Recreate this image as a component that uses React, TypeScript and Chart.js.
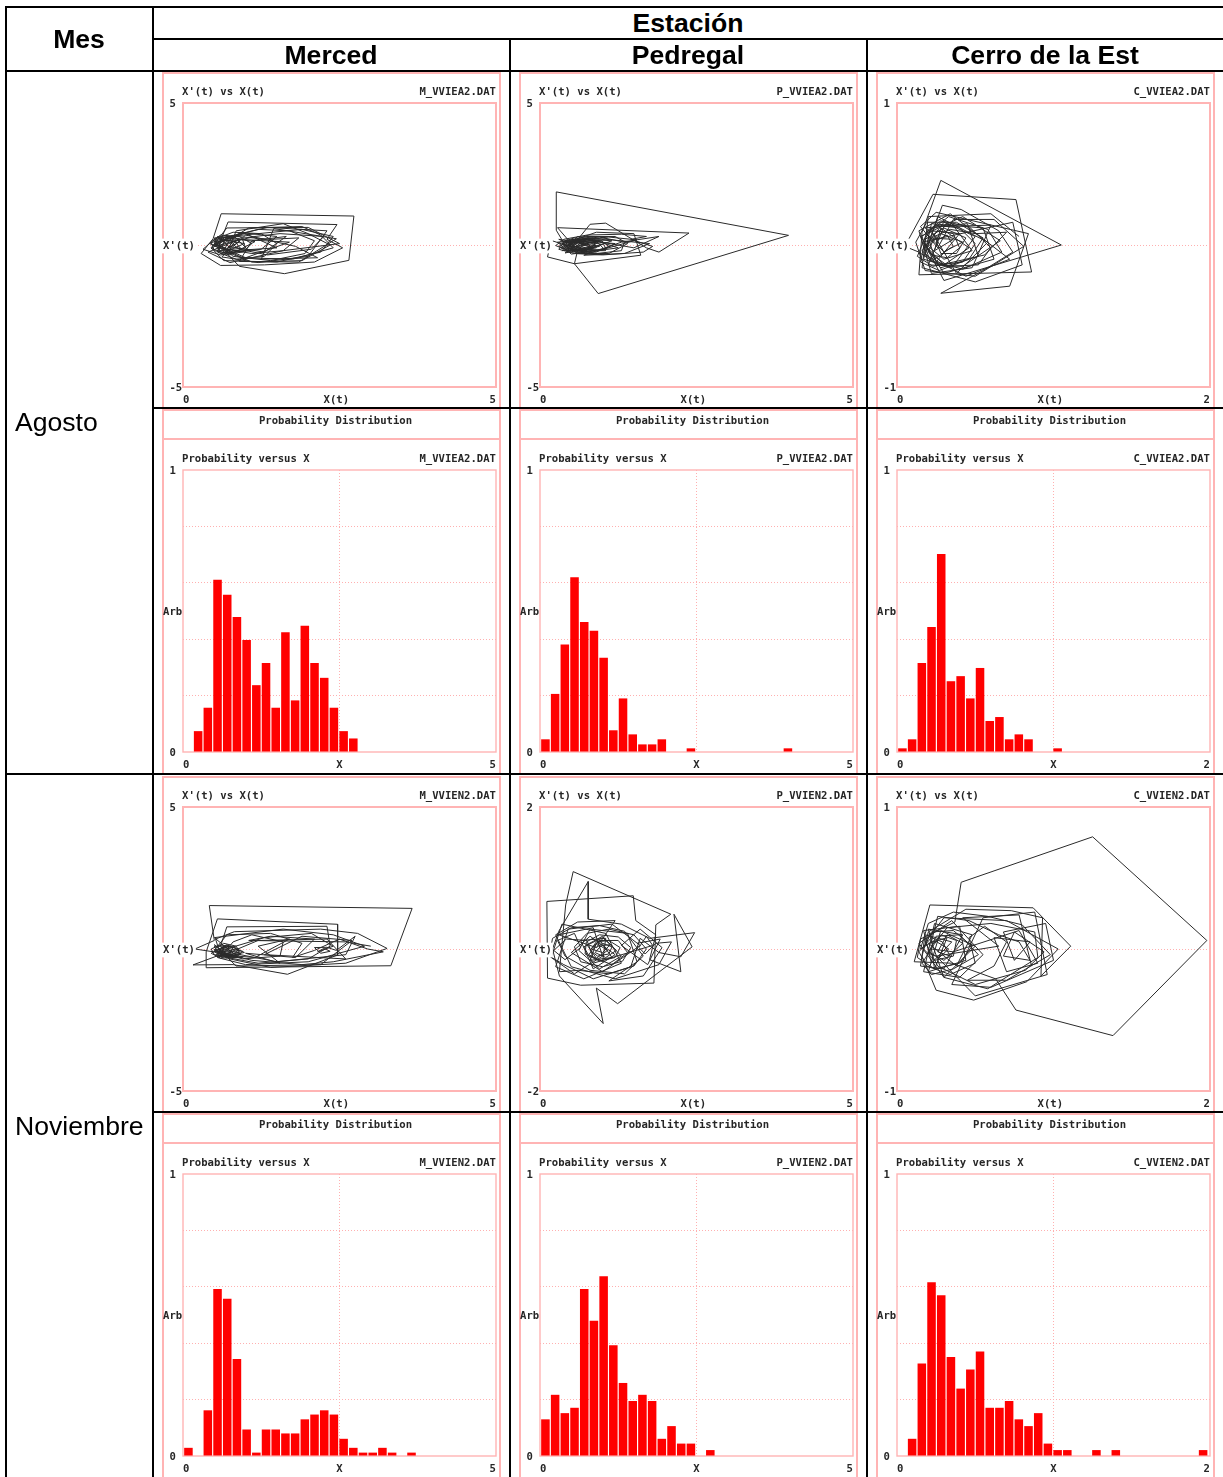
import React, { useEffect, useRef } from "react";
import { Chart, registerables } from "chart.js";

Chart.register(...registerables);

type Pair = [number, number];

const topHeaders = ["Merced", "Pedregal", "Cerro de la Est"];
const rowHeaders = ["Agosto", "Noviembre"];

const binIndex = [0, 1, 2, 3, 4, 5, 6, 7, 8, 9, 10, 11, 12, 13, 14, 15, 16, 17, 18, 19, 20, 21, 22, 23, 24, 25, 26, 27, 28, 29, 30, 31];

const histMercedAgo = [0, 0.074, 0.157, 0.611, 0.558, 0.479, 0.397, 0.237, 0.316, 0.157, 0.425, 0.183, 0.448, 0.316, 0.263, 0.157, 0.074, 0.048];
const histPedregalAgo = [0.045, 0.206, 0.381, 0.62, 0.461, 0.43, 0.334, 0.077, 0.19, 0.0625, 0.027, 0.027, 0.045, 0, 0, 0.013, 0, 0, 0, 0, 0, 0, 0, 0, 0, 0.013];
const histCerroAgo = [0.013, 0.045, 0.316, 0.443, 0.702, 0.251, 0.269, 0.19, 0.298, 0.11, 0.124, 0.045, 0.0625, 0.045, 0, 0, 0.013];
const histMercedNov = [0.029, 0, 0.162, 0.592, 0.558, 0.344, 0.094, 0.012, 0.094, 0.094, 0.08, 0.08, 0.13, 0.147, 0.162, 0.147, 0.061, 0.029, 0.012, 0.012, 0.029, 0.012, 0, 0.012];
const histPedregalNov = [0.13, 0.217, 0.152, 0.171, 0.592, 0.48, 0.637, 0.393, 0.259, 0.195, 0.217, 0.195, 0.061, 0.106, 0.044, 0.044, 0, 0.021];
const histCerroNov = [0, 0.061, 0.328, 0.616, 0.57, 0.351, 0.239, 0.307, 0.371, 0.171, 0.171, 0.195, 0.13, 0.106, 0.152, 0.044, 0.021, 0.021, 0, 0, 0.021, 0, 0.021, 0, 0, 0, 0, 0, 0, 0, 0, 0.021];

const phaseMercedAgo: Pair[] = [[0.55,0.1],[0.7,0.3],[0.95,0.2],[1.0,-0.1],[0.75,-0.3],[0.5,-0.2],[0.45,0.1],[0.6,0.35],[0.9,0.3],[1.1,0.05],[0.95,-0.25],[0.6,-0.35],[0.32,-0.15],[0.5,0.2],[0.8,0.45],[1.25,0.4],[1.5,0.05],[1.3,-0.4],[0.85,-0.5],[0.55,-0.25],[0.6,0.15],[0.72,0.81],[2.46,0.72],[2.3,0.2],[2.55,-0.1],[2.1,-0.6],[1.3,-0.7],[0.6,-0.72],[0.29,-0.3],[0.48,0.22],[0.61,1.1],[2.73,1.02],[2.65,-0.54],[1.62,-1.01],[0.9,-0.75],[0.7,-0.3],[0.85,0.5],[1.6,0.75],[2.0,0.4],[2.35,0.0],[1.9,-0.55],[1.1,-0.6],[0.65,-0.2],[0.75,0.2],[1.05,0.6],[1.9,0.65],[2.2,0.35],[2.4,-0.1],[1.75,-0.5],[0.95,-0.45],[0.62,-0.1],[0.68,0.25],[1.2,0.55],[1.7,0.5],[2.1,0.15],[1.95,-0.3],[1.4,-0.55],[0.8,-0.4],[0.6,0.0],[0.85,0.3],[1.4,0.2],[1.85,0.25],[1.6,-0.2],[1.1,-0.3],[0.7,-0.15],[0.8,0.12],[1.15,0.3],[1.55,0.4],[2.25,0.3],[2.05,-0.15],[1.35,-0.35],[0.9,-0.15],[0.75,0.1],[0.55,-0.05],[0.42,0.05],[0.62,0.22],[0.88,0.08],[0.7,-0.12],[0.5,0.02],[0.66,0.18],[1.0,0.42],[1.5,0.3],[1.25,-0.15],[0.8,-0.25],[0.58,-0.08],[0.5,0.25],[1.9,0.55],[2.4,0.3],[2.2,-0.25],[1.5,-0.6],[0.65,-0.55],[0.45,-0.1],[0.7,0.6],[2.0,0.62],[2.5,0.05],[1.6,-0.2],[0.75,-0.62],[0.4,-0.25],[0.9,0.2],[1.7,0.1],[1.0,-0.45],[0.5,0.05],[0.95,0.45],[1.5,-0.1],[0.8,-0.2],[0.55,0.3],[1.15,0.12],[0.75,-0.35],[0.45,-0.12],[0.8,0.35],[1.05,-0.2],[0.6,-0.3],[0.5,0.12],[0.85,0.18],[0.72,-0.22],[0.48,-0.02],[0.78,0.25],[0.92,-0.12],[0.58,-0.2],[0.6,0.2],[0.98,0.05],[0.66,-0.26],[0.5,0.18],[1.35,0.62],[2.3,0.5],[2.0,-0.4],[1.2,-0.62],[0.62,-0.42],[1.0,0.35],[1.8,-0.05],[2.15,-0.45],[1.25,-0.5],[1.45,0.58],[2.45,0.22],[1.85,-0.6],[0.9,-0.58],[1.1,0.15],[1.65,0.3],[1.3,-0.25],[0.72,-0.05]];

const phasePedregalAgo: Pair[] = [[0.5,0.05],[0.6,0.2],[0.85,0.15],[0.9,-0.1],[0.65,-0.2],[0.4,-0.1],[0.35,0.1],[0.55,0.25],[0.95,0.2],[1.1,-0.05],[0.9,-0.25],[0.5,-0.25],[0.3,-0.05],[0.45,0.15],[0.75,0.3],[1.2,0.3],[1.4,0.05],[1.1,-0.3],[0.6,-0.3],[0.4,0.0],[0.26,0.52],[0.26,1.87],[3.97,0.34],[0.93,-1.71],[0.55,-0.66],[0.6,-0.2],[0.28,0.61],[2.38,0.42],[1.9,-0.25],[1.7,-0.1],[1.05,0.77],[0.8,0.73],[0.55,0.05],[0.75,-0.25],[0.18,0.16],[0.12,-0.42],[0.55,-0.66],[1.61,-0.36],[1.5,0.4],[0.9,0.45],[0.45,0.1],[0.6,-0.2],[0.9,-0.3],[1.3,-0.2],[1.35,0.1],[0.95,0.28],[0.55,0.18],[0.42,-0.08],[0.7,-0.25],[1.05,-0.12],[1.0,0.1],[0.7,0.2],[0.48,0.05],[0.5,-0.15],[0.75,-0.18],[0.88,0.02],[0.7,0.14],[0.52,0.0],[0.62,-0.12],[0.82,-0.05],[0.68,0.1],[0.4,0.12],[0.3,-0.15],[0.55,-0.3],[1.0,-0.35],[1.65,-0.25],[1.8,-0.05],[1.45,0.2],[1.7,0.3],[1.3,0.38],[0.75,0.35],[0.38,0.2],[0.25,-0.02],[0.45,-0.2],[0.8,-0.08],[0.58,0.12],[0.44,-0.02],[0.65,-0.08],[0.78,0.08],[0.56,0.08],[0.5,-0.06],[0.72,-0.02],[0.62,0.05],[0.95,0.1],[1.2,0.05],[1.0,-0.18],[0.66,-0.14],[0.46,0.06],[0.3,0.2],[0.95,-0.05],[0.4,-0.28],[0.75,0.2],[1.15,0.15],[0.6,-0.28],[0.35,0.05],[0.85,0.25],[1.05,-0.2],[0.45,-0.2],[0.5,0.2],[1.0,0.02],[0.55,-0.22],[0.42,0.18],[0.9,0.12],[0.7,-0.28],[0.33,-0.1],[0.8,0.22],[1.25,-0.1],[0.5,-0.32],[0.28,0.1],[1.1,0.28],[1.55,0.18],[0.9,-0.22],[0.38,0.0],[0.72,0.16],[0.62,-0.18],[0.4,0.08],[0.95,0.16],[0.78,-0.16],[0.48,-0.12],[0.68,0.22],[1.5,-0.1],[1.9,0.3],[1.3,0.1],[0.7,-0.36],[1.35,-0.3],[1.75,0.05],[0.6,0.3],[0.35,-0.2],[0.85,-0.12],[0.58,0.16],[0.42,-0.14],[1.05,0.22]];

const phaseCerroAgo: Pair[] = [[0.2,0.02],[0.26,0.1],[0.36,0.08],[0.4,-0.02],[0.32,-0.09],[0.22,-0.07],[0.17,0.03],[0.24,0.14],[0.4,0.12],[0.5,0.01],[0.42,-0.12],[0.26,-0.14],[0.14,-0.05],[0.05,-0.01],[0.23,0.357],[0.76,0.32],[0.86,-0.19],[0.14,-0.21],[0.16,0.09],[0.28,0.455],[1.05,0.0],[0.3,-0.25],[0.19,-0.02],[0.29,0.28],[0.41,0.25],[0.65,0.1],[0.74,-0.05],[0.55,-0.18],[0.28,-0.34],[0.72,-0.29],[0.84,0.08],[0.25,0.23],[0.15,0.13],[0.26,-0.02],[0.36,0.18],[0.62,0.18],[0.81,-0.01],[0.5,-0.22],[0.18,-0.18],[0.12,0.02],[0.19,0.16],[0.38,0.16],[0.55,0.05],[0.46,-0.1],[0.27,-0.18],[0.15,-0.12],[0.18,0.04],[0.3,0.12],[0.44,0.05],[0.38,-0.06],[0.28,-0.06],[0.25,0.03],[0.32,0.07],[0.36,-0.01],[0.3,-0.05],[0.19,0.08],[0.33,0.2],[0.58,0.11],[0.67,-0.05],[0.42,-0.17],[0.21,-0.11],[0.16,0.06],[0.28,0.17],[0.46,0.13],[0.6,-0.02],[0.52,-0.14],[0.33,-0.15],[0.2,-0.05],[0.24,0.06],[0.34,0.11],[0.5,0.08],[0.7,0.09],[0.56,-0.07],[0.36,-0.12],[0.23,-0.15],[0.13,-0.08],[0.2,0.11],[0.35,0.15],[0.48,-0.04],[0.3,-0.1],[0.2,-0.01],[0.28,0.08],[0.42,0.02],[0.33,-0.03],[0.24,-0.1],[0.18,0.0],[0.26,0.05],[0.18,0.12],[0.45,0.15],[0.52,-0.08],[0.28,-0.16],[0.16,-0.04],[0.3,0.16],[0.5,0.06],[0.35,-0.16],[0.17,-0.1],[0.22,0.15],[0.55,0.12],[0.62,-0.1],[0.3,-0.2],[0.15,0.06],[0.42,0.2],[0.66,0.03],[0.42,-0.15],[0.2,-0.14],[0.3,0.13],[0.6,0.14],[0.48,-0.16],[0.22,-0.2],[0.14,0.1],[0.34,0.22],[0.72,-0.1],[0.44,-0.22],[0.18,-0.07],[0.26,0.2],[0.58,0.02],[0.38,-0.2],[0.22,0.1],[0.4,0.08],[0.25,-0.12],[0.2,0.05],[0.36,0.04],[0.24,-0.04],[0.28,0.12],[0.46,-0.02],[0.3,-0.14],[0.16,0.02],[0.74,0.16],[0.8,-0.14],[0.5,-0.26],[0.16,-0.16],[0.2,0.2],[0.6,0.22],[0.78,0.06]];

const phaseMercedNov: Pair[] = [[0.55,0.05],[0.65,0.2],[0.85,0.1],[0.9,-0.1],[0.7,-0.25],[0.5,-0.2],[0.45,0.0],[0.6,0.15],[0.8,0.05],[0.75,-0.15],[0.55,-0.12],[0.19,0.0],[0.5,0.3],[0.42,1.53],[3.66,1.43],[3.32,-0.59],[0.37,-0.66],[0.37,-0.1],[0.55,1.06],[2.47,0.87],[2.47,-0.21],[1.67,-0.89],[0.8,-0.55],[0.16,-0.56],[0.6,-0.2],[0.52,0.35],[0.82,0.61],[2.2,0.7],[2.79,0.55],[3.26,0.02],[2.6,-0.5],[1.4,-0.65],[0.75,-0.35],[0.6,0.1],[0.7,0.78],[2.3,0.8],[2.35,0.1],[2.0,-0.35],[1.2,-0.5],[0.7,-0.3],[0.5,-0.05],[0.7,0.5],[1.4,0.55],[1.9,0.2],[1.75,-0.3],[2.1,-0.05],[2.5,0.35],[2.95,0.0],[3.2,-0.1],[2.4,-0.45],[1.9,-0.55],[1.1,-0.4],[0.65,-0.15],[0.8,0.25],[1.1,0.5],[1.6,0.25],[1.55,-0.25],[0.95,-0.35],[0.6,-0.1],[0.72,0.1],[0.5,0.1],[0.58,-0.18],[0.78,-0.22],[0.9,0.0],[0.7,0.12],[0.55,-0.05],[0.68,-0.28],[0.92,-0.2],[0.82,0.08],[0.62,0.05],[0.52,-0.25],[0.85,-0.3],[0.95,-0.08],[0.72,0.02],[1.3,0.4],[2.05,0.55],[2.4,0.1],[2.15,-0.1],[2.25,0.02],[2.35,-0.08],[2.2,-0.15],[2.1,0.05],[2.3,0.06],[2.45,-0.05],[2.75,0.45],[2.6,-0.2],[1.5,-0.45],[0.8,-0.15],[0.5,0.4],[1.6,0.7],[2.4,0.5],[2.9,0.1],[2.0,-0.45],[1.0,-0.55],[0.55,-0.3],[1.2,0.3],[2.3,0.35],[2.6,-0.35],[1.3,-0.2],[1.9,0.45],[2.7,0.3],[2.2,-0.55],[0.85,-0.6],[0.5,0.15],[0.75,-0.28],[0.95,-0.3],[0.6,-0.32],[0.45,-0.15],[0.7,0.15],[0.98,-0.12],[0.62,-0.3],[0.5,-0.08],[0.78,-0.1],[0.58,-0.28],[0.66,0.08],[0.88,-0.26],[0.55,-0.22],[0.62,0.02],[0.92,-0.15],[0.7,-0.32],[0.5,-0.02],[0.72,-0.05],[0.82,-0.3],[0.6,-0.15],[0.8,-0.18],[0.68,-0.22],[1.15,-0.3],[1.7,0.35],[1.2,0.1],[1.55,-0.5],[1.0,-0.15],[1.8,-0.3],[2.1,0.35],[1.4,0.45],[1.05,0.3],[2.6,0.25],[3.0,0.1]];

const phasePedregalNov: Pair[] = [[0.9,0.02],[1.0,0.08],[1.15,0.03],[1.1,-0.07],[0.92,-0.1],[0.8,-0.02],[0.9,0.1],[1.1,0.12],[1.28,0.02],[1.2,-0.12],[0.95,-0.17],[0.72,-0.07],[0.74,0.1],[0.95,0.2],[1.25,0.17],[1.45,0.02],[1.32,-0.17],[1.0,-0.25],[0.65,-0.18],[0.55,0.03],[0.75,0.22],[1.1,0.28],[1.5,0.2],[1.7,0.0],[1.5,-0.24],[1.1,-0.35],[0.62,-0.3],[0.31,-0.32],[0.41,0.62],[0.53,1.09],[2.09,0.49],[1.85,0.34],[1.82,-0.48],[0.65,-0.51],[0.12,-0.41],[0.11,0.67],[1.49,0.75],[1.53,0.4],[1.85,0.2],[1.75,-0.15],[2.25,-0.32],[2.14,0.49],[2.43,0.03],[1.24,-0.77],[0.9,-0.55],[1.01,-1.05],[0.31,-0.38],[0.2,0.0],[0.3,0.25],[0.77,0.95],[0.77,0.42],[1.3,0.35],[1.75,0.15],[2.47,0.23],[2.25,-0.11],[1.9,-0.05],[1.6,0.15],[1.45,-0.25],[0.85,-0.42],[0.38,-0.22],[0.15,-0.1],[0.2,0.15],[0.5,0.3],[0.95,0.33],[1.35,0.25],[1.65,-0.1],[1.35,-0.35],[0.8,-0.3],[0.4,-0.1],[0.28,0.12],[0.55,0.22],[0.65,0.02],[0.4,-0.15],[0.22,-0.02],[0.42,0.14],[0.75,0.12],[0.85,-0.12],[1.15,-0.22],[1.4,-0.05],[1.25,0.12],[0.95,0.12],[0.82,0.0],[1.0,-0.05],[1.12,0.06],[0.98,0.05],[0.88,-0.05],[1.05,-0.12],[1.22,-0.02],[1.0,0.16],[0.7,0.03],[0.85,-0.2],[1.8,0.05],[1.7,0.18],[1.58,0.02],[1.68,-0.07],[1.85,0.08],[2.1,0.1],[1.9,-0.22],[1.2,-0.42],[0.5,-0.25],[0.25,0.2],[0.6,0.38],[1.2,0.4],[0.9,0.02],[0.3,0.2],[0.85,0.3],[1.0,-0.1],[0.55,-0.35],[0.18,-0.12],[0.35,0.35],[1.05,0.22],[1.3,-0.2],[0.7,-0.42],[0.25,-0.25],[0.45,0.28],[1.15,0.35],[1.6,0.05],[1.0,-0.32],[0.5,-0.05],[0.8,0.18],[1.2,-0.08],[0.85,-0.28],[0.65,0.12],[1.05,0.15],[1.0,-0.18],[0.78,-0.08],[0.95,0.13],[1.15,-0.12],[0.8,-0.16],[0.9,0.08],[1.08,-0.02],[0.9,-0.13],[0.75,0.06],[1.0,0.18],[1.3,-0.1],[0.95,-0.28],[0.62,-0.02],[0.8,0.28],[1.4,0.22],[1.55,-0.18],[1.1,-0.45],[1.65,-0.38],[1.95,0.02],[1.6,0.28],[1.3,0.05],[1.72,-0.22],[1.92,0.14],[1.55,0.08]];

const phaseCerroNov: Pair[] = [[0.22,0.02],[0.28,0.1],[0.38,0.06],[0.36,-0.05],[0.24,-0.08],[0.17,0.0],[0.22,0.12],[0.36,0.13],[0.48,0.02],[0.4,-0.1],[0.24,-0.14],[0.13,-0.06],[0.15,0.07],[0.37,0.19],[0.41,0.47],[1.25,0.79],[1.98,0.06],[1.38,-0.61],[0.76,-0.43],[0.63,-0.21],[0.35,-0.1],[0.11,-0.09],[0.21,0.31],[0.87,0.29],[1.11,0.02],[0.92,-0.19],[0.93,0.22],[0.73,0.27],[0.44,0.28],[0.2,0.12],[0.16,-0.05],[0.25,-0.29],[0.49,-0.36],[0.83,-0.23],[1.03,0.0],[0.7,0.2],[0.3,0.22],[0.18,0.05],[0.26,-0.12],[0.5,-0.25],[0.82,-0.15],[0.94,-0.02],[0.75,0.12],[0.68,-0.05],[0.85,-0.08],[0.78,0.05],[0.65,0.1],[0.46,0.2],[0.26,0.23],[0.22,0.05],[0.3,-0.2],[0.58,-0.28],[0.9,-0.06],[0.88,0.12],[0.6,0.18],[0.32,0.15],[0.2,-0.02],[0.3,-0.08],[0.42,0.04],[0.32,0.1],[0.26,-0.02],[0.34,-0.05],[0.29,0.05],[0.22,0.08],[0.14,-0.02],[0.19,-0.12],[0.34,-0.18],[0.5,-0.1],[0.46,0.08],[0.56,0.16],[0.7,0.05],[0.62,-0.12],[0.45,-0.22],[0.7,-0.22],[0.98,-0.04],[0.8,0.17],[0.58,0.23],[0.36,0.26],[0.2,0.18],[0.15,0.0],[0.24,0.06],[0.33,0.0],[0.27,-0.06],[0.2,-0.03],[0.25,0.09],[0.4,0.1],[0.52,-0.04],[0.36,-0.14],[0.22,-0.18],[0.16,-0.1],[0.23,0.02],[0.2,0.14],[0.42,0.1],[0.3,-0.14],[0.15,-0.12],[0.18,0.1],[0.35,0.05],[0.22,-0.1],[0.17,0.13],[0.4,0.16],[0.44,-0.08],[0.2,-0.16],[0.28,0.13],[0.5,0.02],[0.3,-0.2],[0.14,0.04],[0.35,0.2],[0.55,-0.04],[0.4,-0.2],[0.17,-0.16],[0.24,0.18],[0.48,0.1],[0.38,-0.12],[0.2,0.04],[0.32,0.08],[0.24,-0.14],[0.22,0.0],[0.36,-0.02],[0.78,0.13],[0.9,-0.1],[0.7,-0.16],[0.62,0.08],[0.85,0.05],[0.75,-0.08],[0.68,0.12],[0.95,0.18],[1.0,-0.08],[0.6,-0.27],[0.35,-0.25],[0.55,0.22],[0.88,0.26],[0.96,-0.18],[0.5,-0.33],[0.25,-0.05],[0.65,0.02],[0.42,0.22],[0.78,0.24],[0.86,-0.12]];

const GREY_RED = "#ffb4b4";
const GRID_RED = "#ffb0b0";
const TEXT = "#262626";
const FONT = "'DejaVu Sans Mono', monospace";
const FONT_SIZE = 10.6;

type Panel = {
  kind: "phase" | "hist";
  left: number;
  top: number;
  xMax: number;
  yMax: number;
  caption: string;
  file: string;
  points?: Pair[];
  heights?: number[];
};

const captionPlugin = {
  id: "panelFrame",
  beforeDatasetsDraw(chart: any, _a: any, o: any) {
    const { ctx, chartArea: ca } = chart;
    ctx.save();
    ctx.strokeStyle = GREY_RED;
    ctx.lineWidth = 2;
    const right = ca.right + 4;
    const left = ca.left - 20;
    ctx.strokeRect(left, 1, right - left, chart.height + 1);
    if (o.hist) {
      ctx.beginPath();
      ctx.moveTo(left, 30);
      ctx.lineTo(right, 30);
      ctx.stroke();
    }
    ctx.lineWidth = o.hist ? 1.4 : 2;
    ctx.strokeRect(ca.left, ca.top, ca.right - ca.left, ca.bottom - ca.top);
    ctx.fillStyle = TEXT;
    ctx.font = `bold ${FONT_SIZE}px ${FONT}`;
    ctx.textBaseline = "middle";
    const capY = ca.top - 11;
    ctx.textAlign = "left";
    ctx.fillText(o.caption, ca.left - 1, capY);
    ctx.textAlign = "right";
    ctx.fillText(o.file, ca.right, capY);
    if (o.hist) {
      ctx.textAlign = "center";
      ctx.fillText("Probability Distribution", (ca.left + ca.right) / 2 - 4, 12);
    }
    ctx.restore();
  },
};

function ChartPanel({ p }: { p: Panel }) {
  const ref = useRef<HTMLCanvasElement>(null);
  useEffect(() => {
    const hist = p.kind === "hist";
    const yMin = hist ? 0 : -p.yMax;
    const yMid = hist ? 0.5 : 0;
    const yVals = hist ? [0, 0.2, 0.4, 0.5, 0.6, 0.8, 1] : [yMin, 0, p.yMax];
    const xMid = p.xMax / 2;
    const xLabel = hist ? "X" : "X(t) ";
    const yLabel = hist ? "Arb" : "X'(t)";
    const font = { family: FONT, size: FONT_SIZE, weight: "bold" as const };
    const data = hist
      ? binIndex.slice(0, p.heights!.length).map((i) => ({ x: ((i + 0.56) * p.xMax) / 32.27, y: p.heights![i] }))
      : p.points!.map(([x, y]) => ({ x, y }));
    const chart = new Chart(ref.current!, {
      type: (hist ? "bar" : "scatter") as any,
      data: {
        datasets: [
          hist
            ? { data, backgroundColor: "#ff0000", borderWidth: 0, barPercentage: 0.88, categoryPercentage: 1 }
            : { data, showLine: true, borderColor: "#2a2a2a", borderWidth: 1, pointRadius: 0, tension: 0, fill: false },
        ] as any,
      },
      options: {
        animation: false,
        responsive: false,
        devicePixelRatio: 1,
        layout: { padding: { left: 2, right: 5, top: hist ? 61 : 31, bottom: 2 } },
        plugins: {
          legend: { display: false },
          tooltip: { enabled: false },
          panelFrame: { caption: p.caption, file: p.file, hist },
        } as any,
        scales: {
          x: {
            type: "linear",
            min: 0,
            max: p.xMax,
            offset: false,
            grid: {
              display: hist,
              drawTicks: false,
              offset: false,
              color: (c: any) => (c.tick && c.tick.value === xMid ? GRID_RED : "transparent"),
            },
            border: { display: false, dash: [1, 2] },
            afterBuildTicks: (s: any) => {
              s.ticks = [{ value: 0 }, { value: xMid }, { value: p.xMax }];
            },
            afterFit: (s: any) => {
              s.height = 20;
            },
            ticks: {
              align: "inner",
              autoSkip: false,
              maxRotation: 0,
              padding: 7,
              color: TEXT,
              font,
              callback: (v: any) => (v === xMid ? xLabel : String(v)),
            },
          },
          y: {
            min: yMin,
            max: p.yMax,
            grid: {
              drawTicks: false,
              color: (c: any) => {
                const v = c.tick ? c.tick.value : 0;
                if (v === yMin || v === p.yMax) return "transparent";
                if (hist && v === yMid) return "transparent";
                return GRID_RED;
              },
            },
            border: { display: false, dash: [1, 2] },
            afterBuildTicks: (s: any) => {
              s.ticks = yVals.map((value) => ({ value }));
            },
            afterFit: (s: any) => {
              s.width = 20;
            },
            ticks: {
              autoSkip: false,
              mirror: true,
              padding: -20,
              labelOffset: 1,
              z: 1,
              color: TEXT,
              font,
              showLabelBackdrop: (c: any) => !hist && c.tick && c.tick.value === yMid,
              backdropColor: "#ffffff",
              backdropPadding: 1,
              callback: (v: any) => {
                if (v === yMid) return yLabel;
                if (v === yMin || v === p.yMax) return " " + String(v);
                return "";
              },
            },
          },
        },
      } as any,
      plugins: [captionPlugin],
    });
    return () => chart.destroy();
  }, [p]);
  return (
    <canvas
      ref={ref}
      width={342}
      height={p.kind === "hist" ? 365 : 337}
      style={{ position: "absolute", left: p.left, top: p.top, display: "block" }}
    />
  );
}

const colLeft = [161, 518, 875];
const rowPhaseTop = [72, 776];
const rowHistTop = [409, 1113];

const phaseAxisMax = [
  [5, 5, 1],
  [5, 2, 1],
];
const xAxisMax = [5, 5, 2];
const stationPrefix = ["M", "P", "C"];
const monthCode = ["A", "N"];
const phaseSeries = [
  [phaseMercedAgo, phasePedregalAgo, phaseCerroAgo],
  [phaseMercedNov, phasePedregalNov, phaseCerroNov],
];
const histSeries = [
  [histMercedAgo, histPedregalAgo, histCerroAgo],
  [histMercedNov, histPedregalNov, histCerroNov],
];

const panels: Panel[] = [];
[0, 1].forEach((r) => {
  [0, 1, 2].forEach((c) => {
    const file = `${stationPrefix[c]}_VVIE${monthCode[r]}2.DAT`;
    panels.push({
      kind: "phase",
      left: colLeft[c],
      top: rowPhaseTop[r],
      xMax: xAxisMax[c],
      yMax: phaseAxisMax[r][c],
      caption: "X'(t) vs X(t)",
      file,
      points: phaseSeries[r][c],
    });
    panels.push({
      kind: "hist",
      left: colLeft[c],
      top: rowHistTop[r],
      xMax: xAxisMax[c],
      yMax: 1,
      caption: "Probability versus X",
      file,
      heights: histSeries[r][c],
    });
  });
});

const lineStyle = (left: number, top: number, width: number, height: number): React.CSSProperties => ({
  position: "absolute",
  left,
  top,
  width,
  height,
  background: "#000",
  zIndex: 5,
});

const headerStyle = (cx: number, cy: number, bold: boolean): React.CSSProperties => ({
  position: "absolute",
  left: cx - 170,
  width: 340,
  top: cy - 16,
  height: 32,
  lineHeight: "32px",
  textAlign: "center",
  fontFamily: "'Liberation Sans', Arial, sans-serif",
  fontSize: 26.6,
  fontWeight: bold ? 700 : 400,
  color: "#000",
  whiteSpace: "nowrap",
  zIndex: 6,
});

export default function App() {
  return (
    <div style={{ position: "absolute", left: 0, top: 0, width: 1223, height: 1477, overflow: "hidden", background: "#fff" }}>
      {panels.map((p, i) => (
        <ChartPanel key={i} p={p} />
      ))}
      <div style={lineStyle(5, 6, 1218, 2)} />
      <div style={lineStyle(152, 38, 1071, 2)} />
      <div style={lineStyle(5, 70, 1218, 2)} />
      <div style={lineStyle(152, 407, 1071, 2)} />
      <div style={lineStyle(5, 773, 1218, 2)} />
      <div style={lineStyle(152, 1111, 1071, 2)} />
      <div style={lineStyle(5, 6, 2, 1471)} />
      <div style={lineStyle(152, 6, 2, 1471)} />
      <div style={lineStyle(509, 38, 2, 1439)} />
      <div style={lineStyle(866, 38, 2, 1439)} />
      <div style={headerStyle(79, 39, true)}>Mes</div>
      <div style={headerStyle(688, 23, true)}>Estación</div>
      <div style={headerStyle(331, 55, true)}>{topHeaders[0]}</div>
      <div style={headerStyle(688, 55, true)}>{topHeaders[1]}</div>
      <div style={headerStyle(1045, 55, true)}>{topHeaders[2]}</div>
      <div style={{ ...headerStyle(56, 422, false), left: 15, width: 140, textAlign: "left" }}>{rowHeaders[0]}</div>
      <div style={{ ...headerStyle(56, 1126, false), left: 15, width: 140, textAlign: "left" }}>{rowHeaders[1]}</div>
    </div>
  );
}
